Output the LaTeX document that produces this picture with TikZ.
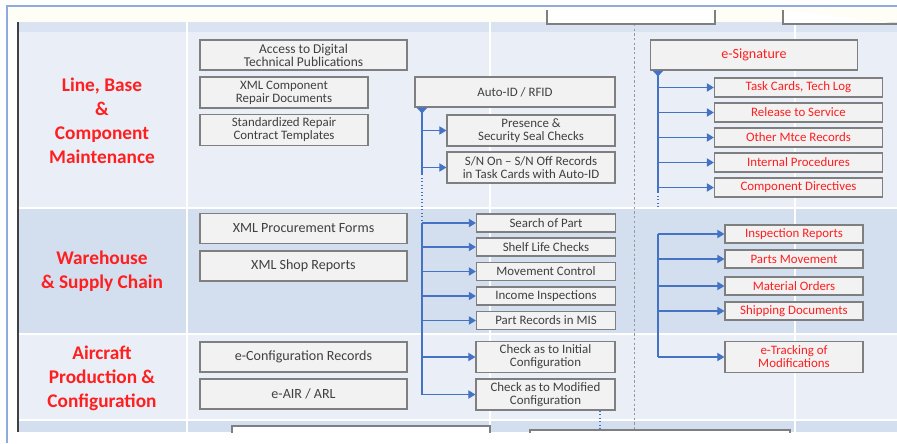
\documentclass[tikz,border=0pt]{standalone}
\usepackage{fontspec}
\setmainfont{Carlito}
\usetikzlibrary{arrows.meta}
\definecolor{rowlight}{HTML}{E9EEF7}
\definecolor{rowdark}{HTML}{D3DEEF}
\definecolor{frameblue}{HTML}{8FAADC}
\definecolor{feedblue}{HTML}{4472C4}
\definecolor{boxfill}{HTML}{F2F2F2}
\definecolor{boxline}{HTML}{7F7F7F}
\definecolor{labred}{HTML}{FF1F1F}
\definecolor{txtgray}{HTML}{404040}
\definecolor{cream}{HTML}{FFFEF6}
\begin{document}
\begin{tikzpicture}[x=0.03cm, y=-0.03cm,
    box/.style={draw=boxline, line width=1pt, fill=boxfill, text=txtgray,
      align=center, inner sep=1pt, font=\fontsize{11}{11}\selectfont},
    widebox/.style={box, minimum width=6.21cm, minimum height=0.9cm,
      font=\fontsize{12}{13}\selectfont},
    midbox/.style={box, minimum width=5.04cm, minimum height=0.93cm},
    chkbox/.style={box, minimum width=4.17cm, minimum height=0.54cm},
    chkbig/.style={box, minimum width=4.17cm, minimum height=0.93cm},
    sigbox/.style={box, text=labred, minimum width=5.04cm, minimum height=0.57cm},
    recbox/.style={box, text=labred, minimum width=4.14cm, minimum height=0.54cm},
    rowlabel/.style={text=labred, align=center,
      font=\bfseries\fontsize{16.5}{20.5}\selectfont},
    feed/.style={draw=feedblue, line width=1pt},
    tip/.style={-{Triangle[length=6pt, width=7pt]}},
    drop/.style={{Triangle[reversed, length=5pt, width=9pt]}-},
  ]
  \useasboundingbox (0,0) rectangle (897,443);
  \clip (0,0) rectangle (897,443);
  % --- background frame and swim lanes ---
  \fill[white] (0,0) rectangle (897,443);
  \fill[cream] (8,7) rectangle (897,22);
  \fill[rowdark!85] (19,22) rectangle (897,32);
  \fill[rowlight] (19,32) rectangle (897,207);
  \fill[rowdark] (19,208.5) rectangle (897,333);
  \fill[rowlight] (19,334.5) rectangle (897,419);
  \fill[rowdark] (19,420.5) rectangle (897,432);
  \foreach \cx in {187,490,795} {
    \draw[white, line width=1.6pt] (\cx,22) -- (\cx,432);
  }
  \draw[frameblue, line width=1.4pt] (7,443) -- (7,6) -- (897,6);
  \draw[black!75, line width=1.6pt] (18,22) -- (18,432);
  \draw[boxline!80, line width=0.8pt, dash pattern=on 2pt off 2pt] (634,24) -- (634,432);
  % cut-off boxes at the top and bottom edge
  \draw[boxline, line width=1pt, fill=white] (547,10) -- (547,24) -- (715,24) -- (715,10);
  \draw[boxline, line width=1pt, fill=white] (783,10) -- (783,24) -- (900,24);
  \draw[boxline, line width=1pt, fill=white] (232,433) -- (232,426) -- (490,426) -- (490,433);
  \draw[boxline, line width=1pt, fill=white] (530,433) -- (530,430) -- (790,430) -- (790,433);

  % --- lane labels ---
  \node[rowlabel] (lanemro) at (102,120.5) {Line, Base\\\&\\Component\\Maintenance};
  \node[rowlabel] (lanewh) at (102,271.5) {Warehouse\\\& Supply Chain};
  \node[rowlabel] (laneac) at (102,378) {Aircraft\\Production \&\\Configuration};

  % --- left column of documents ---
  \node[widebox, font=\fontsize{11.5}{11}\selectfont] (access) at (303.5,55) {Access to Digital\\Technical Publications};
  \node[midbox] (xmlcomp) at (284,92.5) {XML Component\\Repair Documents};
  \node[midbox] (stdrep) at (284,130) {Standardized Repair\\Contract Templates};
  \node[widebox] (xmlproc) at (303.5,228.5) {XML Procurement Forms};
  \node[widebox] (xmlshop) at (303.5,266) {XML Shop Reports};
  \node[widebox] (econf) at (303.5,357) {e-Configuration Records};
  \node[widebox] (eair) at (303.5,394) {e-AIR / ARL};

  % --- Auto-ID branch ---
  \node[box, minimum width=6.0cm, minimum height=0.9cm] (autoid) at (515,92) {Auto-ID / RFID};
  \node[midbox] (presence) at (531,130.5) {Presence \&\\Security Seal Checks};
  \node[midbox] (snon) at (531,167.5) {S/N On -- S/N Off Records\\in Task Cards with Auto-ID};
  \node[chkbox] (search) at (546,223) {Search of Part};
  \node[chkbox] (shelf) at (546,247) {Shelf Life Checks};
  \node[chkbox] (move) at (546,271.5) {Movement Control};
  \node[chkbox] (income) at (546,296) {Income Inspections};
  \node[chkbox] (partrec) at (546,320.5) {Part Records in MIS};
  \node[chkbig] (chkinit) at (545.5,357) {Check as to Initial\\Configuration};
  \node[chkbig] (chkmod) at (545.5,394.5) {Check as to Modified\\Configuration};

  \coordinate (trunkA) at (422,0);
  \draw[feed, drop] (autoid.south -| trunkA) -- (422,174);
  \draw[feed, dotted] (422,174) -- (422,223);
  \draw[feed] (422,223) -- (chkmod.west -| trunkA);
  \foreach \b in {presence,snon,search,shelf,move,income,partrec,chkinit,chkmod} {
    \draw[feed, tip] (\b.west -| trunkA) -- (\b.west);
  }
  \draw[feed, dotted] (chkmod.south -| 600,0) -- (600,431);

  % --- e-Signature branch ---
  \node[widebox, text=labred] (esig) at (754,55) {e-Signature};
  \node[sigbox] (taskc) at (798.5,87.5) {Task Cards, Tech Log};
  \node[sigbox] (release) at (798.5,112.5) {Release to Service};
  \node[sigbox] (othrec) at (798.5,137.5) {Other Mtce Records};
  \node[sigbox] (intproc) at (798.5,162.5) {Internal Procedures};
  \node[sigbox] (compdir) at (798.5,187.5) {Component Directives};
  \node[recbox] (insprep) at (794,234) {Inspection Reports};
  \node[recbox] (partmov) at (794,259) {Parts Movement};
  \node[recbox] (matord) at (794,286) {Material Orders};
  \node[recbox] (shipdoc) at (794,311) {Shipping Documents};
  \node[recbox, minimum height=0.93cm] (etrack) at (794,357) {e-Tracking of\\Modifications};

  \coordinate (trunkB) at (658,0);
  \draw[feed, drop] (esig.south -| trunkB) -- (658,192);
  \draw[feed, dotted] (658,192) -- (658,208);
  \draw[feed] (insprep.west -| trunkB) -- (etrack.west -| trunkB);
  \foreach \b in {taskc,release,othrec,intproc,compdir,insprep,partmov,matord,shipdoc,etrack} {
    \draw[feed, tip] (\b.west -| trunkB) -- (\b.west);
  }
\end{tikzpicture}
\end{document}
